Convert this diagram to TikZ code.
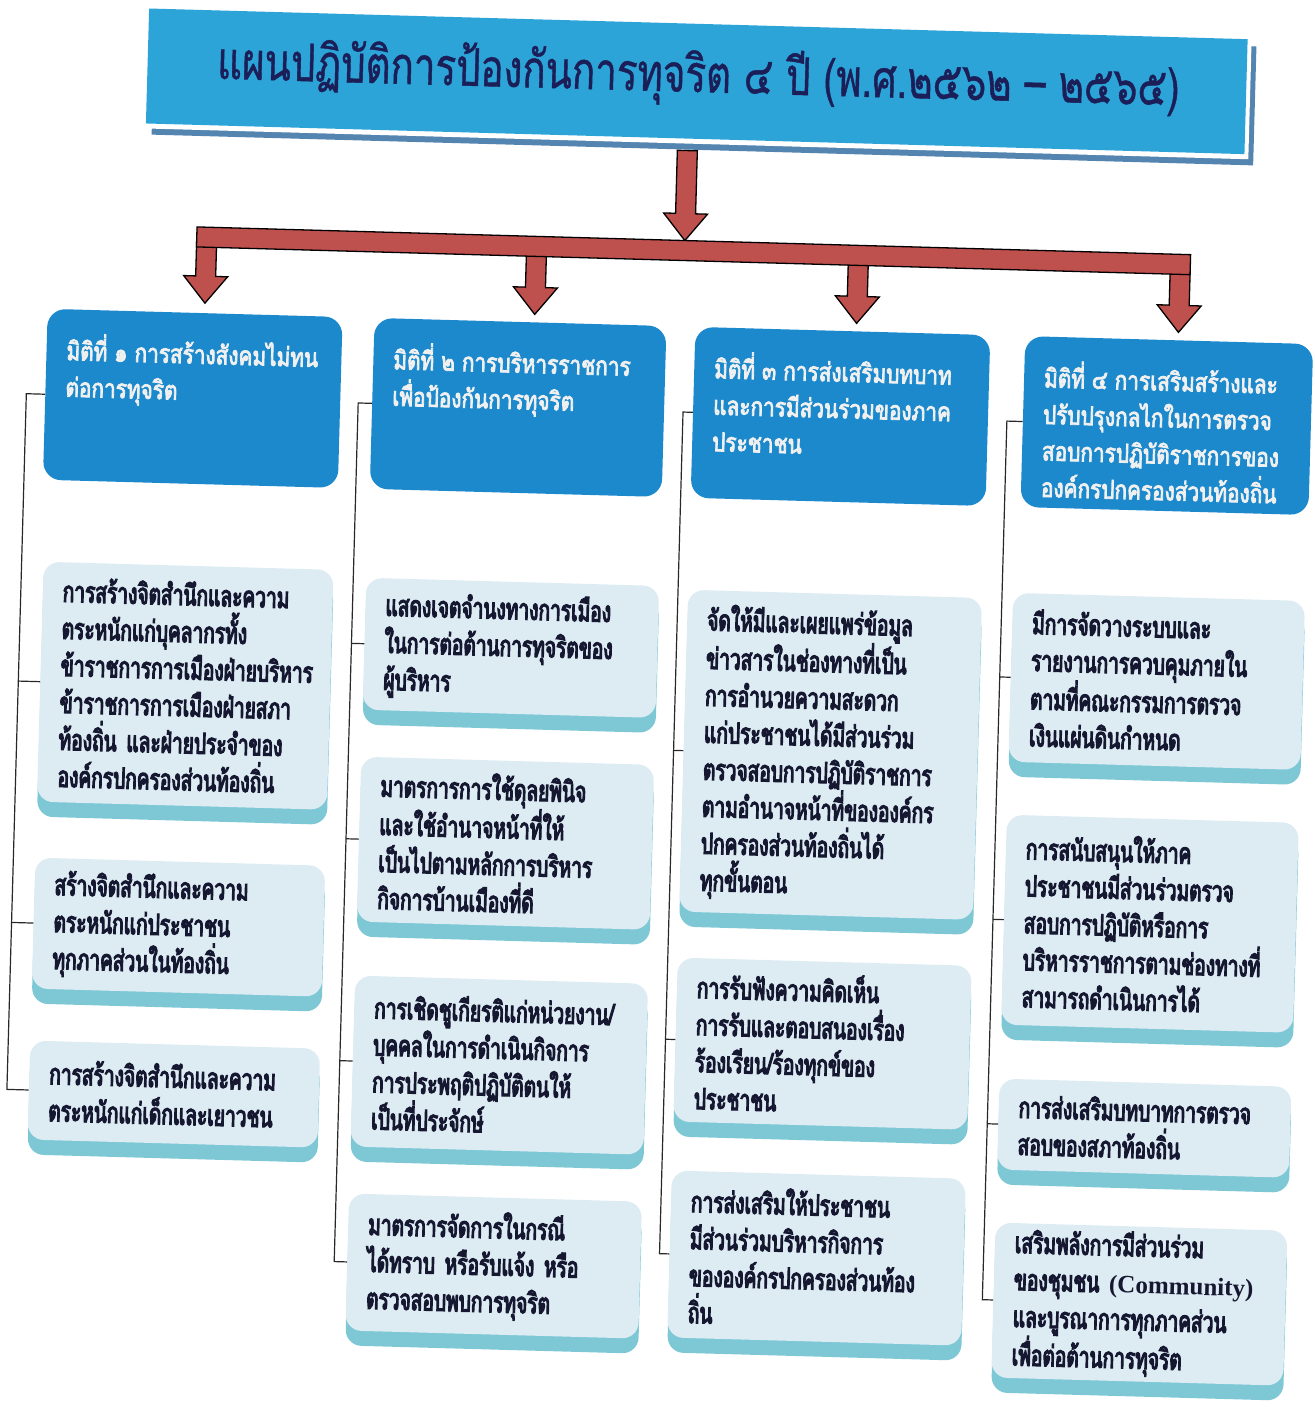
\documentclass[tikz,border=0pt]{standalone}
\usepackage{fontspec}
\setmainfont[Script=Thai]{Loma}
\newfontfamily\titlefont[Script=Thai, FakeStretch=0.74, FakeBold=0.8]{Loma}
\newfontfamily\dimfont[Script=Thai, FakeStretch=0.8, FakeBold=3]{Loma}
\newfontfamily\itemfont[Script=Thai, FakeStretch=0.66, FakeBold=4]{Loma}
\newfontfamily\latserif{Liberation Serif}
\usetikzlibrary{shadows}
\definecolor{bannerblue}{RGB}{44,164,216}
\definecolor{bannershadow}{RGB}{84,132,176}
\definecolor{titlenavy}{RGB}{28,30,88}
\definecolor{dimblue}{RGB}{27,137,204}
\definecolor{itemfill}{RGB}{221,236,243}
\definecolor{itemshade}{RGB}{126,200,214}
\definecolor{arrowred}{RGB}{190,80,77}
\definecolor{itemtext}{RGB}{22,24,50}
\definecolor{linegrey}{RGB}{40,40,40}
\newcommand\downarr[3]{%
  \draw[redarrow] ({#1-10},#2) -- ({#1+10},#2) -- ({#1+10},{#3-27}) -- ({#1+22},{#3-27})
    -- (#1,#3) -- ({#1-22},{#3-27}) -- ({#1-10},{#3-27}) -- cycle;}
\newcommand\dimtxt[2]{\parbox[c][123pt][t]{#1}{\raggedright #2}}
\begin{document}
\begin{tikzpicture}[x=1pt,y=-1pt,
  dimbox/.style={fill=dimblue, rounded corners=18pt, inner xsep=20pt, inner ysep=24pt,
    font=\dimfont\fontsize{26}{36.5}\selectfont, text=white!94!black},
  itembox/.style={fill=itemfill, rounded corners=16pt, inner xsep=20pt, inner ysep=0pt,
    align=left, font=\itemfont\fontsize{29}{37}\selectfont, text=itemtext,
    drop shadow={shadow xshift=0pt, shadow yshift=-15pt, fill=itemshade, opacity=1}},
  redarrow/.style={fill=arrowred, draw=black, line width=1.3pt, line join=miter},
  conn/.style={draw=linegrey, line width=1.2pt},
]
\useasboundingbox[fill=white] (0,0) rectangle (1315,1409);
\begin{scope}[rotate around={-1.6:(660,700)}, transform shape]
% banner
\fill[bannershadow] (136,30) rectangle (1238,149);
\fill[white] (130,23) rectangle (1233,143);
\node[fill=bannerblue, minimum width=1099pt, minimum height=115pt, inner sep=0pt] (banner) at (679.5,80.5) {};
\node[font=\titlefont\fontsize{52}{54}\selectfont, text=titlenavy] (title) at (681,76) {แผนปฏิบัติการป้องกันการทุจริต ๔ ปี (พ.ศ.๒๕๖๒ – ๒๕๖๕)};
% red arrows
\downarr{672}{150}{240}
\downarr{194}{255}{316}
\downarr{524}{255}{318}
\downarr{846}{255}{318}
\downarr{1168}{255}{318}
\draw[redarrow] (184,240) rectangle (1178,260);
% dimension boxes
\node[dimbox] (d1) at (184.5,411.5) {\dimtxt{255pt}{มิติที่ ๑ การสร้างสังคมไม่ทน\\ต่อการทุจริต}};
\node[dimbox] (d2) at (510,411.5) {\dimtxt{252pt}{มิติที่ ๒ การบริหารราชการ\\เพื่อป้องกันการทุจริต}};
\node[dimbox] (d3) at (832.5,411.5) {\dimtxt{255pt}{มิติที่ ๓ การส่งเสริมบทบาท\\และการมีส่วนร่วมของภาค\\ประชาชน}};
\node[dimbox] (d4) at (1159,411.5) {\dimtxt{248pt}{มิติที่ ๔ การเสริมสร้างและ\\ปรับปรุงกลไกในการตรวจ\\สอบการปฏิบัติราชการของ\\องค์กรปกครองส่วนท้องถิ่น}};
% column 1
\node[itembox, text width=250pt, minimum height=240pt] (i1a) at (185,699) {การสร้างจิตสำนึกและความ\\ตระหนักแก่บุคลากรทั้ง\\ข้าราชการการเมืองฝ่ายบริหาร\\ข้าราชการการเมืองฝ่ายสภา\\ท้องถิ่น และฝ่ายประจำของ\\องค์กรปกครองส่วนท้องถิ่น};
\node[itembox, text width=250pt, minimum height=131pt] (i1b) at (185,940.5) {สร้างจิตสำนึกและความ\\ตระหนักแก่ประชาชน\\ทุกภาคส่วนในท้องถิ่น};
\node[itembox, text width=250pt, minimum height=99pt] (i1c) at (185,1107.5) {การสร้างจิตสำนึกและความ\\ตระหนักแก่เด็กและเยาวชน};
% column 2
\node[itembox, text width=253pt, minimum height=132pt] (i2a) at (509.5,652) {แสดงเจตจำนงทางการเมือง\\ในการต่อต้านการทุจริตของ\\ผู้บริหาร};
\node[itembox, text width=253pt, minimum height=165pt] (i2b) at (509.5,847.5) {มาตรการการใช้ดุลยพินิจ\\และใช้อำนาจหน้าที่ให้\\เป็นไปตามหลักการบริหาร\\กิจการบ้านเมืองที่ดี};
\node[itembox, text width=253pt, minimum height=171pt] (i2c) at (509.5,1069.5) {การเชิดชูเกียรติแก่หน่วยงาน/\\บุคคลในการดำเนินกิจการ\\การประพฤติปฏิบัติตนให้\\เป็นที่ประจักษ์};
\node[itembox, text width=253pt, minimum height=137pt] (i2d) at (509.5,1270.5) {มาตรการจัดการในกรณี\\ได้ทราบ หรือรับแจ้ง หรือ\\ตรวจสอบพบการทุจริต};
% column 3
\node[itembox, text width=254pt, minimum height=322pt] (i3a) at (832,750) {จัดให้มีและเผยแพร่ข้อมูล\\ข่าวสารในช่องทางที่เป็น\\การอำนวยความสะดวก\\แก่ประชาชนได้มีส่วนร่วม\\ตรวจสอบการปฏิบัติราชการ\\ตามอำนาจหน้าที่ขององค์กร\\ปกครองส่วนท้องถิ่นได้\\ทุกขั้นตอน};
\node[itembox, text width=254pt, minimum height=164pt] (i3b) at (832,1039) {การรับฟังความคิดเห็น\\การรับและตอบสนองเรื่อง\\ร้องเรียน/ร้องทุกข์ของ\\ประชาชน};
\node[itembox, text width=254pt, minimum height=167pt] (i3c) at (832,1253.5) {การส่งเสริมให้ประชาชน\\มีส่วนร่วมบริหารกิจการ\\ขององค์กรปกครองส่วนท้อง\\ถิ่น};
% column 4
\node[itembox, text width=252pt, minimum height=169pt] (i4a) at (1156,667.5) {มีการจัดวางระบบและ\\รายงานการควบคุมภายใน\\ตามที่คณะกรรมการตรวจ\\เงินแผ่นดินกำหนด};
\node[itembox, text width=252pt, minimum height=210pt] (i4b) at (1156,910) {การสนับสนุนให้ภาค\\ประชาชนมีส่วนร่วมตรวจ\\สอบการปฏิบัติหรือการ\\บริหารราชการตามช่องทางที่\\สามารถดำเนินการได้};
\node[itembox, text width=252pt, minimum height=91pt] (i4c) at (1156,1114.5) {การส่งเสริมบทบาทการตรวจ\\สอบของสภาท้องถิ่น};
\node[itembox, text width=252pt, minimum height=155pt] (i4d) at (1156,1290.5) {เสริมพลังการมีส่วนร่วม\\ของชุมชน {\latserif\bfseries\fontsize{25}{37}\selectfont(Community)}\\และบูรณาการทุกภาคส่วน\\เพื่อต่อต้านการทุจริต};
% connector coordinates
\coordinate (k1) at (18,411.5);  \coordinate (k1a) at (18,699);
\coordinate (k1b) at (18,940.5); \coordinate (k1c) at (18,1107.5);
\coordinate (k2) at (350,411.5); \coordinate (k2a) at (350,652);
\coordinate (k2b) at (350,847.5); \coordinate (k2c) at (350,1069.5);
\coordinate (k2d) at (350,1270.5);
\coordinate (k3) at (675,411.5); \coordinate (k3a) at (675,750);
\coordinate (k3b) at (675,1039); \coordinate (k3c) at (675,1253.5);
\coordinate (k4) at (999,411.5); \coordinate (k4a) at (999,667.5);
\coordinate (k4b) at (999,910); \coordinate (k4c) at (999,1114.5);
\coordinate (k4d) at (999,1290.5);
\draw[conn] (d1.west) -- (k1) -- (k1c) -- (i1c.west);
\draw[conn] (k1a) -- (i1a.west);
\draw[conn] (k1b) -- (i1b.west);
\draw[conn] (d2.west) -- (k2) -- (k2d) -- (i2d.west);
\draw[conn] (k2a) -- (i2a.west);
\draw[conn] (k2b) -- (i2b.west);
\draw[conn] (k2c) -- (i2c.west);
\draw[conn] (d3.west) -- (k3) -- (k3c) -- (i3c.west);
\draw[conn] (k3a) -- (i3a.west);
\draw[conn] (k3b) -- (i3b.west);
\draw[conn] (d4.west) -- (k4) -- (k4d) -- (i4d.west);
\draw[conn] (k4a) -- (i4a.west);
\draw[conn] (k4b) -- (i4b.west);
\draw[conn] (k4c) -- (i4c.west);
\end{scope}
\end{tikzpicture}
\end{document}
